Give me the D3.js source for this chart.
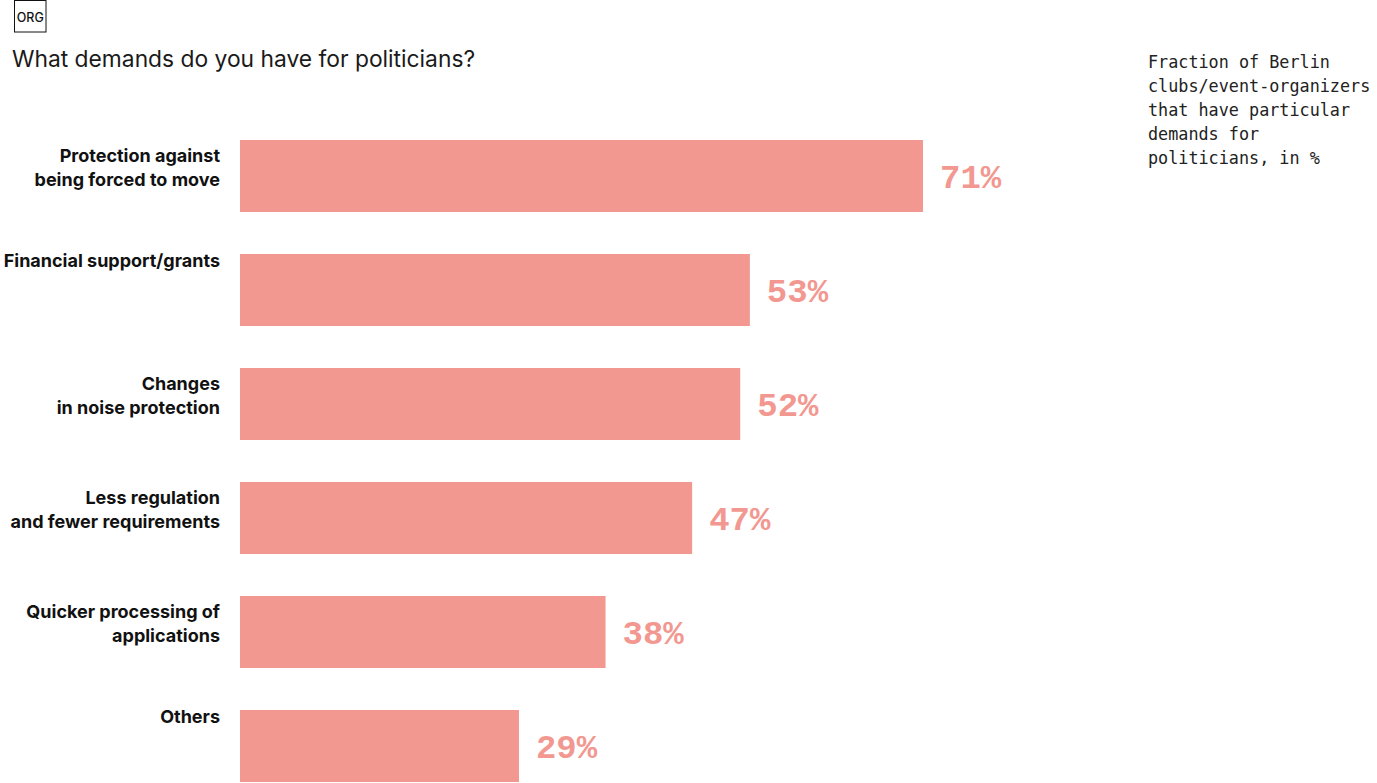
<!DOCTYPE html>
<html><head><meta charset="utf-8">
<script src="https://cdn.jsdelivr.net/npm/d3@7"></script>
<style>
body{margin:0;background:#fff;}
svg{display:block;}
</style></head>
<body>
<svg id="chart" width="1377" height="783"></svg>
<script>
const categories = [
  ["Protection against","being forced to move"],
  ["Financial support/grants"],
  ["Changes","in noise protection"],
  ["Less regulation","and fewer requirements"],
  ["Quicker processing of","applications"],
  ["Others"]
];
const values = [71, 53, 52, 47, 38, 29];
const valueLabels = ["71%","53%","52%","47%","38%","29%"];
const title = "What demands do you have for politicians?";
const note = ["Fraction of Berlin","clubs/event-organizers","that have particular","demands for","politicians, in %"];

const svg = d3.select("#chart");
const color = "#f29891";

// ORG box
svg.append("rect").attr("x",14.5).attr("y",0.5).attr("width",31.5).attr("height",31.5)
  .attr("fill","none").attr("stroke","#111").attr("stroke-width",1);
svg.append("text").attr("x",30.3).attr("y",21.5).attr("text-anchor","middle")
  .attr("font-family","Inter, sans-serif").attr("font-size",12.5).attr("font-weight",500).attr("fill","#111").text("ORG");

svg.append("text").attr("x",12).attr("y",67)
  .attr("font-family","Inter, sans-serif").attr("font-size",22.8).attr("fill","#1a1a1a").text(title);

const noteG = svg.append("text").attr("font-family","'DejaVu Sans Mono', monospace")
  .attr("font-size",16.8).attr("fill","#222");
note.forEach((l,i)=>noteG.append("tspan").attr("x",1148).attr("y",68+i*24).text(l));

const x = d3.scaleLinear().domain([0,100]).range([240,1202]);
const step = 114, barH = 72;
const y = d3.scaleBand().domain(d3.range(values.length))
  .range([140, 140 + step*(values.length-1) + barH])
  .paddingInner((step-barH)/step).paddingOuter(0);

svg.append("g").selectAll("rect").data(values).join("rect")
  .attr("x",x(0)).attr("y",(d,i)=>y(i)).attr("width",d=>x(d)-x(0)).attr("height",y.bandwidth())
  .attr("fill",color);

svg.append("g").selectAll("text").data(values).join("text")
  .attr("x",d=>x(d)+17).attr("y",(d,i)=>y(i)+y.bandwidth()/2+12)
  .attr("font-family","'Liberation Mono', monospace").attr("font-weight","bold")
  .attr("font-size",34).attr("fill",color).text((d,i)=>valueLabels[i]);

const lab = svg.append("g").selectAll("text").data(categories).join("text")
  .attr("text-anchor","end").attr("font-family","Inter, sans-serif").attr("font-weight","bold")
  .attr("font-size",18).attr("fill","#111");
lab.each(function(lines,i){
  const t = d3.select(this);
  const top = y(i) + (lines.length > 1 ? 22 : 13);
  lines.forEach((l,j)=>t.append("tspan").attr("x",220).attr("y",top+j*24).text(l));
});
</script>
</body></html>
